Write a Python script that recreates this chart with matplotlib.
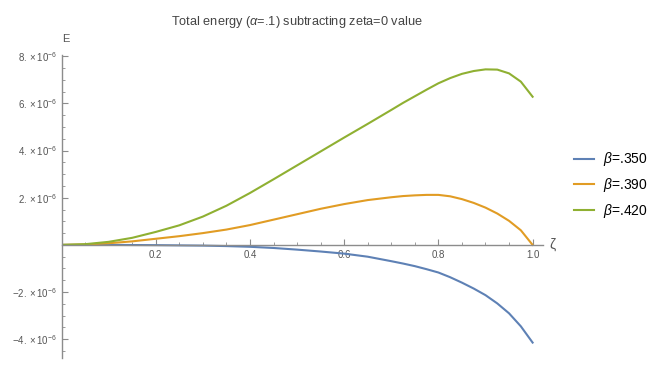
import matplotlib
matplotlib.use('Agg')
import matplotlib.pyplot as plt
from matplotlib.ticker import MultipleLocator, FixedLocator, FuncFormatter

plt.rcParams['font.family'] = ['Liberation Sans', 'DejaVu Sans']
plt.rcParams['mathtext.fontset'] = 'custom'
plt.rcParams['mathtext.rm'] = 'Liberation Sans'
plt.rcParams['mathtext.it'] = 'Liberation Sans:italic'

# zeta values and energies (units of 1e-6)
zeta = [0, 0.05, 0.1, 0.15, 0.2, 0.25, 0.3, 0.35, 0.4, 0.45, 0.5, 0.55, 0.6, 0.65, 0.7,
        0.725, 0.75, 0.775, 0.8, 0.825, 0.85, 0.875, 0.9, 0.925, 0.95, 0.975, 1.0]
e_350 = [0, 0, 0, -0.005, -0.01, -0.02, -0.03, -0.05, -0.08, -0.13, -0.2, -0.28, -0.37, -0.5, -0.69,
         -0.79, -0.9, -1.03, -1.17, -1.37, -1.6, -1.85, -2.13, -2.48, -2.9, -3.45, -4.14]
e_390 = [0, 0.02, 0.07, 0.15, 0.26, 0.37, 0.5, 0.65, 0.84, 1.07, 1.3, 1.53, 1.73, 1.9, 2.02,
         2.07, 2.1, 2.12, 2.12, 2.06, 1.94, 1.78, 1.58, 1.33, 1.02, 0.62, 0]
e_420 = [0, 0.03, 0.13, 0.3, 0.55, 0.83, 1.2, 1.66, 2.2, 2.78, 3.37, 3.96, 4.55, 5.13, 5.72,
         6.02, 6.3, 6.58, 6.85, 7.07, 7.25, 7.37, 7.44, 7.43, 7.27, 6.92, 6.28]
labels = [r'$\beta$=.350', r'$\beta$=.390', r'$\beta$=.420']
colors = ['#5E81B5', '#E19C24', '#8FB032']

fig = plt.figure(figsize=(6.65, 3.74), dpi=100)
ax = fig.add_axes([0.0925, 0.043, 0.724, 0.81])

for vals, lab, c in zip([e_350, e_390, e_420], labels, colors):
    ax.plot(zeta, vals, color=c, lw=1.5, label=lab, solid_joinstyle='round')

ax.set_xlim(0, 1.022)
ax.set_ylim(-4.79, 8.05)

for s in ['top', 'right']:
    ax.spines[s].set_visible(False)
ax.spines['left'].set_position(('data', 0))
ax.spines['bottom'].set_position(('data', 0))
for s in ['left', 'bottom']:
    ax.spines[s].set_color('#8c8c8c')
    ax.spines[s].set_linewidth(1.0)

ax.xaxis.set_major_locator(FixedLocator([0.2, 0.4, 0.6, 0.8, 1.0]))
ax.xaxis.set_minor_locator(MultipleLocator(0.05))
ax.yaxis.set_major_locator(FixedLocator([-4, -2, 2, 4, 6, 8]))
ax.yaxis.set_minor_locator(MultipleLocator(0.5))
ax.xaxis.set_major_formatter(FuncFormatter(lambda v, p: '%.1f' % v))
ax.yaxis.set_major_formatter(FuncFormatter(
    lambda v, p: r'$%s%d.\times10^{-6}$' % ('-' if v < 0 else '', abs(v))))

ax.tick_params(which='both', direction='in', color='#8c8c8c', labelcolor='#555555',
               labelsize=7)
ax.tick_params(which='major', length=4)
ax.tick_params(which='minor', length=2.5)
ax.tick_params(axis='x', pad=4)

ax.text(0.01, 8.5, 'E', fontsize=8, color='#555555', ha='center', va='bottom')
ax.text(1.035, 0, 'ζ', fontsize=10, color='#555555', ha='left', va='center')

fig.text(0.447, 0.941, 'Total energy ($\\alpha$=.1) subtracting zeta=0 value',
         fontsize=9.2, color='#444444', ha='center', va='center')

fig.legend(loc='center left', bbox_to_anchor=(0.855, 0.505), frameon=False,
           fontsize=10, handlelength=1.45, handletextpad=0.6, labelspacing=0.55,
           borderaxespad=0)

fig.savefig('out.png', dpi=100)
